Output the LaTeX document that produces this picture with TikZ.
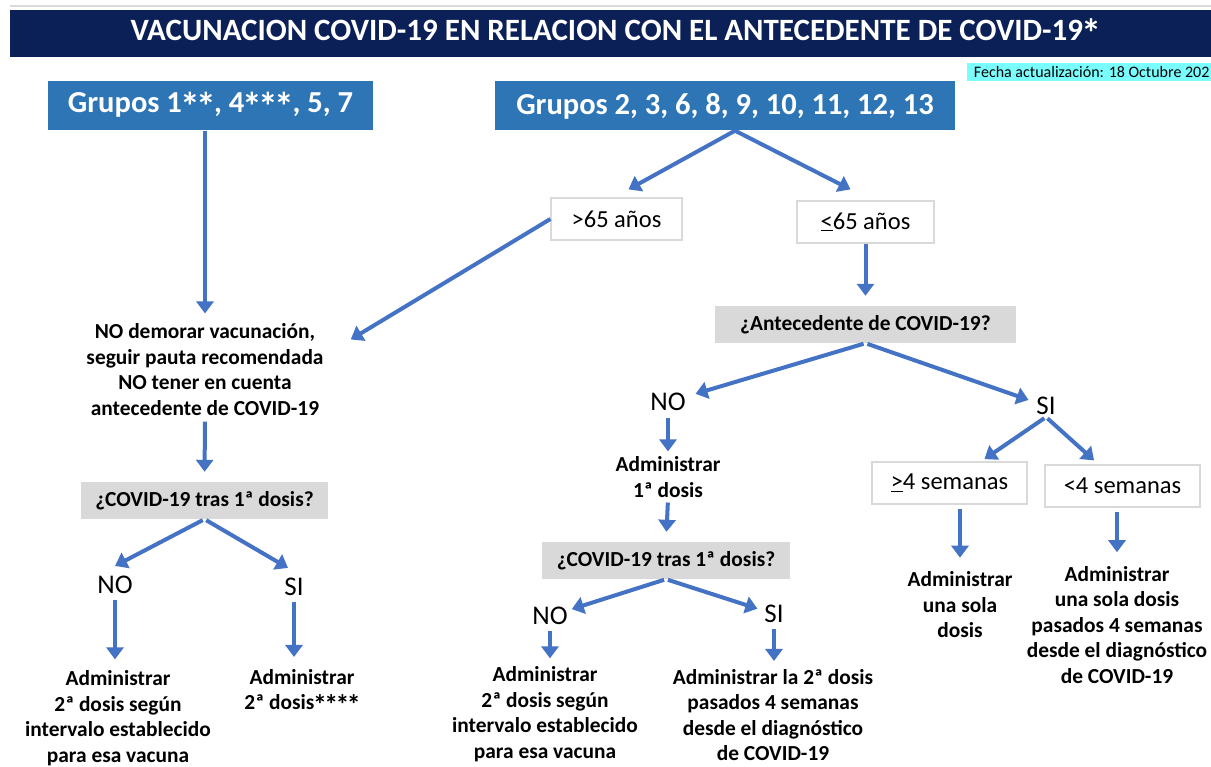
\documentclass[tikz,border=0pt]{standalone}
\usepackage{fontspec}
\usepackage{graphicx}
\setmainfont{Carlito}
\usetikzlibrary{arrows.meta}

\definecolor{navy}{RGB}{12,32,88}
\definecolor{grupoblue}{RGB}{46,117,182}
\definecolor{flechablue}{RGB}{68,114,196}
\definecolor{cajagris}{RGB}{217,217,217}
\definecolor{fechacyan}{RGB}{122,253,253}

% Large asterisk as in the original slide
\newcommand\estr{\kern-0.06em\raisebox{-0.24em}{\scalebox{1.3}{*}}\kern-0.06em}

\begin{document}
\begin{tikzpicture}[x=1pt,y=-1pt,
    titulo/.style={fill=navy, text=white, minimum height=47pt, inner sep=0pt,
        font=\fontsize{31}{33}\selectfont\bfseries},
    grupo/.style={fill=grupoblue, text=white, minimum height=49pt, inner sep=0pt,
        font=\fontsize{30.5}{33}\selectfont\bfseries},
    edad/.style={draw=cajagris, line width=1.2pt, fill=white, minimum height=42pt, inner sep=0pt,
        font=\fontsize{24.5}{26}\selectfont},
    pregunta/.style={fill=cajagris, minimum height=37pt, inner sep=0pt,
        font=\fontsize{21.4}{23}\selectfont\bfseries},
    resp/.style={inner sep=2pt, font=\fontsize{27}{29}\selectfont},
    accion/.style={align=center, inner sep=2pt, font=\fontsize{21.4}{25.5}\selectfont\bfseries},
    flecha/.style={draw=flechablue, line width=4pt, -{Triangle[width=17pt,length=12pt]}}
]
    % Page size as the reference
    \useasboundingbox (0,0) rectangle (1211,767);

    % Heading
    \draw[cajagris, line width=2.5pt] (10,6) -- (1211,6);
    \node[titulo, minimum width=1201pt] (titulo) at (610.5,33.5)
        {\hspace*{9pt}VACUNACION COVID-19 EN RELACION CON EL ANTECEDENTE DE COVID-19\estr};
    \node[fill=fechacyan, anchor=west, minimum width=244pt, minimum height=18pt,
        inner sep=0pt, font=\fontsize{16}{17}\selectfont] (fecha) at (967,72)
        {\hspace*{5pt}Fecha actualización: 18 Octubre 202\hfill};

    % Groups
    \node[grupo, minimum width=325pt] (g1) at (210.5,106) {Grupos 1\estr\estr, 4\estr\estr\estr, 5, 7};
    \node[grupo, minimum width=460pt] (g2) at (725,106) {Grupos 2, 3, 6, 8, 9, 10, 11, 12, 13};

    % Right branch
    \node[edad, minimum width=131pt] (mayor) at (616.5,219) {>65 años};
    \node[edad, minimum width=137pt] (menor) at (865.5,222) {\underline{<}65 años};
    \node[pregunta, minimum width=301pt] (antec) at (865.5,324.5) {¿Antecedente de COVID-19?};
    \node[resp] (no1) at (668,402) {NO};
    \node[resp] (si1) at (1046,406) {SI};
    \node[accion] (adm1) at (668,477) {Administrar\\1ª dosis};
    \node[pregunta, minimum width=248pt] (q2) at (666,560.5) {¿COVID-19 tras 1ª dosis?};
    \node[resp] (no2) at (550,616) {NO};
    \node[resp] (si2) at (774,614) {SI};
    \node[accion] (r2no) at (545,714)
        {Administrar\\2ª dosis según\\intervalo establecido\\para esa vacuna};
    \node[accion] (r2si) at (773,715)
        {Administrar la 2ª dosis\\pasados 4 semanas\\desde el diagnóstico\\de COVID-19};
    \node[edad, minimum width=155pt] (mas4) at (949.5,483) {\underline{>}4 semanas};
    \node[edad, minimum width=155pt] (menos4) at (1122.5,486) {<4 semanas};
    \node[accion] (r3a) at (960,605) {Administrar\\una sola\\dosis};
    \node[accion] (r3b) at (1117,625)
        {Administrar\\una sola dosis\\pasados 4 semanas\\desde el diagnóstico\\de COVID-19};

    % Left branch
    \node[accion] (demora) at (205,369.5)
        {NO demorar vacunación,\\seguir pauta recomendada\\NO tener en cuenta\\antecedente de COVID-19};
    \node[pregunta, minimum width=247pt] (q1) at (204.5,500.5) {¿COVID-19 tras 1ª dosis?};
    \node[resp] (no3) at (115,585) {NO};
    \node[resp] (si3) at (294,587) {SI};
    \node[accion] (r1no) at (118,718)
        {Administrar\\2ª dosis según\\intervalo establecido\\para esa vacuna};
    \node[accion] (r1si) at (302,692) {Administrar\\2ª dosis\estr\estr\estr\estr};

    % Arrows
    \draw[flecha, shorten >=8pt] (demora.north |- g1.south) -- (demora.north);
    \draw[flecha] ([xshift=10pt]g2.south) -- ([xshift=12pt,yshift=8pt]mayor.north);
    \draw[flecha] ([xshift=10pt]g2.south) -- ([xshift=-15pt,yshift=11pt]menor.north);
    \draw[flecha] (mayor.west) -- ([xshift=25pt,yshift=-18pt]demora.north east);
    \draw[flecha, shorten >=10pt] (menor.south) -- (antec.north);
    \draw[flecha, shorten <=2pt, shorten >=8pt] (antec.south) -- (no1);
    \draw[flecha, shorten <=2pt, shorten >=6pt] (antec.south) -- (si1);
    \draw[flecha, shorten <=5pt, shorten >=3pt] (no1.south) -- (adm1.north);
    \draw[flecha, shorten <=3pt, shorten >=10pt] (adm1.south) -- (q2.north);
    \draw[flecha, shorten <=2pt, shorten >=2pt] (q2.south) -- (no2);
    \draw[flecha, shorten <=2pt, shorten >=5pt] (q2.south) -- (si2);
    \draw[flecha, shorten <=4pt, shorten >=6pt] (no2.south) -- (no2.south |- r2no.north);
    \draw[flecha, shorten <=4pt, shorten >=6pt] (si2.south) -- (si2.south |- r2si.north);
    \draw[flecha, shorten <=2pt, shorten >=4pt] (si1.south) -- (mas4);
    \draw[flecha, shorten <=2pt, shorten >=6pt] (si1.south) -- (menos4);
    \draw[flecha, shorten <=4pt, shorten >=12pt] (r3a.north |- mas4.south) -- (r3a.north);
    \draw[flecha, shorten <=4pt, shorten >=12pt] (r3b.north |- menos4.south) -- (r3b.north);
    \draw[flecha, shorten <=4pt, shorten >=10pt] (demora.south) -- (q1.north);
    \draw[flecha, shorten <=2pt] (q1.south) -- ([yshift=8pt]no3.north);
    \draw[flecha, shorten <=2pt] (q1.south) -- ([xshift=-6pt,yshift=8pt]si3.north);
    \draw[flecha, shorten <=4pt, shorten >=9pt] (no3.south) -- (no3.south |- r1no.north);
    \draw[flecha, shorten <=4pt, shorten >=10pt] (si3.south) -- (si3.south |- r1si.north);
\end{tikzpicture}
\end{document}
